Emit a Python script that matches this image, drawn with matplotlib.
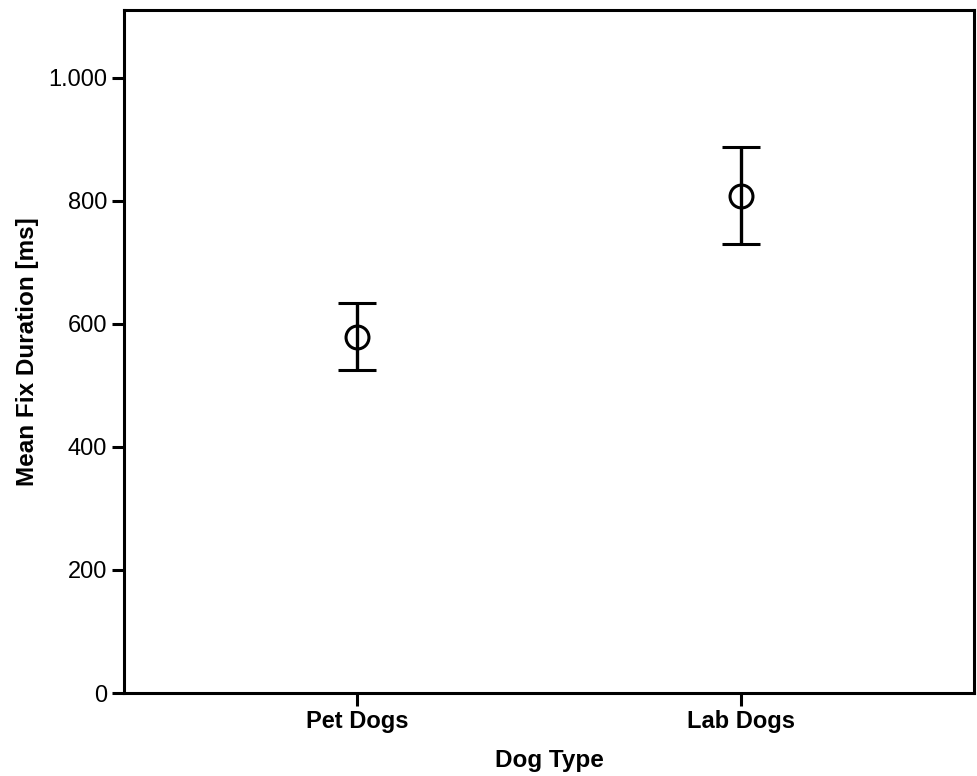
import matplotlib
matplotlib.use("Agg")
import matplotlib.pyplot as plt
from matplotlib import font_manager

categories = ["Pet Dogs", "Lab Dogs"]
means = [579, 808]
upper = [634, 888]
lower = [525, 730]
yticks = [0, 200, 400, 600, 800, 1000]
yticklabels = ["0", "200", "400", "600", "800", "1.000"]

names = {f.name for f in font_manager.fontManager.ttflist}
fam = "Liberation Sans Narrow" if "Liberation Sans Narrow" in names else "Liberation Sans"
plt.rcParams["font.family"] = [fam, "DejaVu Sans"]

fig = plt.figure(figsize=(9.77, 7.76), dpi=100)
ax = fig.add_axes([124/977, 1-693/776, (974-124)/977, (693-10)/776])

x = list(range(len(categories)))
yerr = [[m - l for m, l in zip(means, lower)], [u - m for u, m in zip(upper, means)]]
ax.errorbar(x, means, yerr=yerr, fmt="o", mfc="none", mec="black", mew=2.2,
            ms=16.5, ecolor="black", elinewidth=2.4, capsize=14, capthick=2.6,
            color="black")

ax.set_xlim(-0.606, 1.606)
ax.set_ylim(0, 1110)
ax.set_xticks(x)
ax.set_xticklabels(categories, fontsize=17, fontweight="bold")
ax.set_yticks(yticks)
ax.set_yticklabels(yticklabels, fontsize=17)
ax.tick_params(axis="both", direction="out", length=9, width=2.2, pad=3, color="black")
for s in ax.spines.values():
    s.set_linewidth(2.2)
    s.set_color("black")
ax.set_xlabel("Dog Type", fontsize=17.5, fontweight="bold", labelpad=12)
ax.set_ylabel("Mean Fix Duration [ms]", fontsize=17.5, fontweight="bold", labelpad=7)

fig.savefig("out.png", dpi=100)
